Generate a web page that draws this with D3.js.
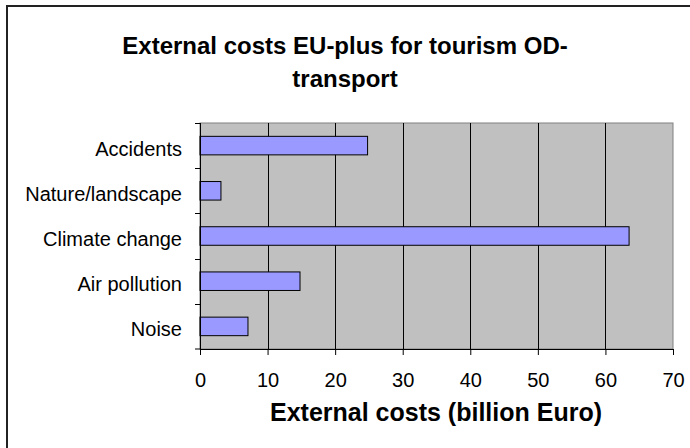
<!DOCTYPE html>
<html>
<head>
<meta charset="utf-8">
<script src="https://cdn.jsdelivr.net/npm/d3@7"></script>
<style>
  body { margin: 0; background: #fff; }
  svg { display: block; font-family: "Liberation Sans", Arial, sans-serif; }
</style>
</head>
<body>
<div id="chart"></div>
<script>
// categories, top to bottom
var categories = [ "Accidents", "Nature/landscape", "Climate change", "Air pollution", "Noise" ];
var costs = [ 24.8, 3.1, 63.5, 14.8, 7.1 ];
var xTicks = [ 0, 10, 20, 30, 40, 50, 60, 70 ];
var titleLines = [ "External costs EU-plus for tourism OD-", "transport" ];
var xTitle = "External costs (billion Euro)";

var width = 690, height = 448;
var margin = { top: 123, right: 17, bottom: 99, left: 200 };
var innerWidth = width - margin.left - margin.right,
  innerHeight = height - margin.top - margin.bottom;

var svg = d3.select( "#chart" ).append( "svg" )
  .attr( "width", width )
  .attr( "height", height );

// outer frame: only the left and top edges show in the picture
svg.append( "path" )
  .attr( "d", "M7," + height + "V6H" + width )
  .attr( "fill", "none" )
  .attr( "stroke", "#222" )
  .attr( "stroke-width", 2 );

svg.append( "text" )
  .attr( "x", 345 ).attr( "y", 54 )
  .attr( "text-anchor", "middle" )
  .attr( "font-weight", "bold" )
  .attr( "font-size", 24 )
  .selectAll( "tspan" )
  .data( titleLines )
  .enter().append( "tspan" )
    .attr( "x", 345 )
    .attr( "dy", function( d, i ) { return i ? 33 : 0; } )
    .text( function( d ) { return d; } );

var g = svg.append( "g" )
  .attr( "transform", "translate(" + margin.left + "," + margin.top + ")" );

var xScale = d3.scaleLinear().domain( [ 0, 70 ] ).range( [ 0, innerWidth ] );
var yScale = d3.scaleBand().domain( categories ).range( [ 0, innerHeight ] ).paddingInner( 0.59 ).paddingOuter( 0.295 );
var yBand = d3.scaleBand().domain( categories ).range( [ 0, innerHeight ] );

// plot background
g.append( "rect" )
  .attr( "width", innerWidth ).attr( "height", innerHeight )
  .attr( "fill", "#c0c0c0" )
  .attr( "stroke", "#808080" );

// gridlines
g.selectAll( ".grid" )
  .data( xTicks.slice( 1, -1 ) )
  .enter().append( "line" )
    .attr( "class", "grid" )
    .attr( "x1", function( d ) { return Math.round( xScale( d ) ) + 0.5; } )
    .attr( "x2", function( d ) { return Math.round( xScale( d ) ) + 0.5; } )
    .attr( "y1", 0 ).attr( "y2", innerHeight )
    .attr( "stroke", "#000" );

// bars
g.selectAll( ".bar" )
  .data( categories )
  .enter().append( "rect" )
    .attr( "class", "bar" )
    .attr( "x", xScale( 0 ) )
    .attr( "y", function( d ) { return yScale( d ); } )
    .attr( "width", function( d, i ) { return xScale( costs[ i ] ); } )
    .attr( "height", yScale.bandwidth() )
    .attr( "fill", "#9999ff" )
    .attr( "stroke", "#000" );

// x axis
var xAxis = g.append( "g" )
  .attr( "transform", "translate(0," + innerHeight + ")" )
  .call( d3.axisBottom( xScale ).tickValues( xTicks ).tickSize( 6 ).tickPadding( 25 ) );
xAxis.attr( "font-family", null ).attr( "font-size", 20 );
xAxis.select( ".domain" ).attr( "stroke", "#000" );
xAxis.selectAll( "text" ).attr( "fill", "#000" ).attr( "dy", "0.35em" );

// y axis, ticks between categories
var yAxis = g.append( "g" ).attr( "font-size", 20 );
yAxis.append( "line" )
  .attr( "x1", 0.5 ).attr( "x2", 0.5 ).attr( "y1", 0 ).attr( "y2", innerHeight )
  .attr( "stroke", "#000" );
yAxis.selectAll( ".ytick" )
  .data( categories.concat( [ null ] ) )
  .enter().append( "line" )
    .attr( "x1", -5 ).attr( "x2", 0 )
    .attr( "y1", function( d ) { return d === null ? innerHeight : Math.round( yBand( d ) ) + 0.5; } )
    .attr( "y2", function( d ) { return d === null ? innerHeight : Math.round( yBand( d ) ) + 0.5; } )
    .attr( "stroke", "#000" );
yAxis.selectAll( ".ylabel" )
  .data( categories )
  .enter().append( "text" )
    .attr( "x", -18 )
    .attr( "y", function( d ) { return yBand( d ) + yBand.bandwidth() / 2 + 3; } )
    .attr( "dy", "0.35em" )
    .attr( "text-anchor", "end" )
    .text( function( d ) { return d; } );

svg.append( "text" )
  .attr( "x", 436 ).attr( "y", 421 )
  .attr( "text-anchor", "middle" )
  .attr( "font-weight", "bold" )
  .attr( "font-size", 25 )
  .text( xTitle );
</script>
</body>
</html>
